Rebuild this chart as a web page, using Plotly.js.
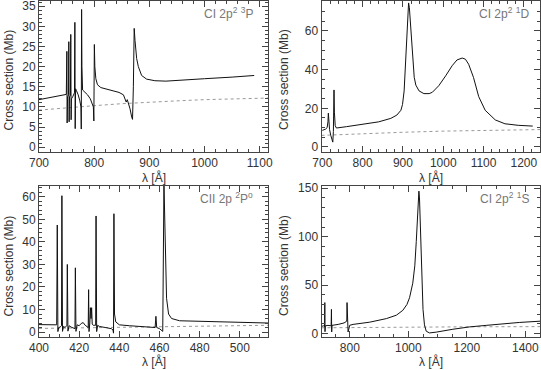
<!DOCTYPE html>
<html>
<head>
<meta charset="utf-8">
<script src="https://cdn.plot.ly/plotly-3.0.1.min.js"></script>
<style>
  body { margin: 0; background: #fff; }
  #chart { width: 541px; height: 370px; }
</style>
</head>
<body>
<div id="chart"></div>
<script>
// Panel 1: CI 2p2 3P
const p1Wave = [700, 720, 740, 749.5, 750.5, 751, 751.8, 753.5, 754, 754.6, 755.3,
  757, 757.6, 758.2, 758.8, 761, 764.3, 765, 765.6, 766.3, 768, 771, 774, 776,
  776.6, 777.2, 777.8, 779, 782, 788, 793, 796, 798.5, 799.4, 800.3, 801.2, 803,
  806, 812, 830, 845, 853, 856, 858, 860, 862, 865, 868, 869.5, 871, 872.5, 874,
  877, 880, 886, 895, 910, 930, 960, 1000, 1050, 1090];
const p1Sigma = [11.8, 12.3, 12.8, 13.1, 23.8, 6.0, 12.5, 13.0, 26.2, 6.3, 12.5,
  12.8, 28.0, 6.8, 12.0, 12.5, 13.5, 31.0, 4.6, 14.5, 14.0, 13.0, 11.5, 10.0,
  4.5, 34.2, 20.0, 14.2, 13.8, 13.0, 12.0, 11.0, 10.0, 6.5, 25.5, 20.0, 17.0,
  15.5, 14.8, 14.2, 13.6, 13.0, 11.8, 11.2, 11.8, 11.0, 9.5, 7.5, 6.9, 15.0, 29.5, 26.5,
  22.0, 20.0, 17.8, 16.9, 16.5, 16.4, 16.6, 17.0, 17.4, 17.8];
const p1RefWave = [700, 750, 800, 850, 900, 950, 1000, 1050, 1115];
const p1RefSigma = [9.2, 9.8, 10.3, 10.8, 11.2, 11.5, 11.8, 12.0, 12.2];

// Panel 2: CI 2p2 1D
const p2Wave = [700, 708, 712, 714, 715, 716, 718, 721, 724, 726, 727.5, 729, 730,
  732, 735, 760, 800, 840, 870, 885, 895, 899, 903, 907, 910, 912, 914, 916, 920,
  924, 928, 932, 940, 952, 965, 973, 989, 1006, 1022, 1034, 1047, 1055, 1063,
  1075, 1088, 1104, 1129, 1153, 1186, 1222];
const p2Sigma = [8.6, 9.2, 10.0, 13.0, 17.5, 12.0, 9.0, 6.0, 3.0, 2.5, 8.0, 29.5, 18.0,
  11.0, 9.8, 10.5, 11.6, 13.0, 14.8, 16.5, 19.0, 22.0, 29.0, 44.0, 58.0, 68.0, 74.5, 72.0, 60.0,
  45.0, 36.0, 32.0, 29.0, 27.6, 27.6, 28.3, 31.7, 36.8, 42.0, 45.0, 46.0, 45.4, 42.8,
  36.0, 26.0, 19.0, 14.0, 12.0, 11.2, 10.8];
const p2RefWave = [698, 800, 900, 1000, 1100, 1240];
const p2RefSigma = [6.0, 6.9, 7.6, 8.2, 8.6, 9.0];

// Panel 3: CII 2p 2Po
const p3Wave = [400, 405, 408.8, 409.1, 409.4, 409.8, 410.5, 411.2, 411.4, 411.7,
  412.2, 413, 413.9, 414.1, 414.4, 415, 416, 417.9, 418.1, 418.4, 419, 420, 421,
  422, 423, 424.5, 424.7, 424.9, 425.3, 425.6, 425.9, 426.2, 426.5, 427, 428.2,
  428.4, 428.7, 429.2, 430, 433, 436, 436.8, 437.1, 437.3, 437.6, 438.2, 440, 445,
  450, 455, 457.8, 458.2, 458.6, 460, 461.6, 462.2, 463, 463.5, 464.5, 466, 470,
  480, 500, 514];
const p3Sigma = [3.3, 3.3, 3.2, 47.5, 0.2, 2.0, 2.2, 2.8, 60.5, 0.3,
  2.5, 2.0, 3.0, 30.0, 0.4, 2.8, 2.2, 1.5, 28.5, 0.3, 3.2, 2.8, 3.8,
  4.2, 3.0, 2.0, 18.8, 0.2, 4.0, 10.8, 6.0, 10.8, 3.5, 3.0, 3.0,
  51.5, 0.2, 3.0, 2.5, 2.0, 1.5, 1.0, -0.5, 52.5, 8.0, 4.5, 3.2, 2.8,
  2.5, 2.3, 2.0, 7.0, 2.0, 1.5, 0.3, 66.0, 30.0, 15.0, 8.0, 6.0, 5.0,
  4.7, 4.3, 4.0];
const p3RefWave = [400, 430, 460, 490, 514];
const p3RefSigma = [1.6, 2.0, 2.4, 2.7, 3.0];

// Panel 4: CI 2p2 1S
const p4Wave = [703, 710, 713.5, 714.3, 715, 716, 725, 736, 737, 737.8, 739, 760,
  780, 788, 789.5, 790.3, 791.5, 793.9, 799.5, 811, 868, 925, 959, 981, 995, 1004,
  1015, 1022, 1027, 1031, 1034, 1036, 1038, 1041, 1044, 1047, 1050, 1055, 1061,
  1072, 1095, 1152, 1209, 1266, 1322, 1379, 1450];
const p4Sigma = [7.5, 8.0, 7.0, 32.0, 2.0, 8.0, 8.5, 8.0, 25.0, 1.7, 8.5, 9.5,
  11.0, 12.5, 14.0, 32.0, 18.0, 1.7, 8.6, 9.5, 11.8, 15.5, 19.0, 24.0, 30.0, 37.0,
  52.0, 70.0, 95.0, 125.0, 145.0, 147.0, 140.0, 115.0, 85.0, 50.0, 25.0, 9.0, 2.5,
  0.7, 1.5, 4.5, 6.9, 8.5, 10.3, 11.5, 12.8];
const p4RefWave = [703, 1000, 1200, 1450];
const p4RefSigma = [6.0, 6.8, 7.0, 7.2];

const W = 541, H = 370;
const ink = '#333';
const font = {family: 'Liberation Sans, Arial, sans-serif', size: 12, color: ink};
const labelFont = Object.assign({}, font, {color: '#777'});

function mainLine(x, y, xa, ya) {
  return {x: x, y: y, xaxis: xa, yaxis: ya, type: 'scatter', mode: 'lines',
    line: {color: '#111', width: 1}, hoverinfo: 'skip'};
}
function refLine(x, y, xa, ya) {
  return {x: x, y: y, xaxis: xa, yaxis: ya, type: 'scatter', mode: 'lines',
    line: {color: '#999', width: 1, dash: 'dot'}, hoverinfo: 'skip'};
}

const data = [
  refLine(p1RefWave, p1RefSigma, 'x', 'y'),
  mainLine(p1Wave, p1Sigma, 'x', 'y'),
  refLine(p2RefWave, p2RefSigma, 'x2', 'y2'),
  mainLine(p2Wave, p2Sigma, 'x2', 'y2'),
  refLine(p3RefWave, p3RefSigma, 'x3', 'y3'),
  mainLine(p3Wave, p3Sigma, 'x3', 'y3'),
  refLine(p4RefWave, p4RefSigma, 'x4', 'y4'),
  mainLine(p4Wave, p4Sigma, 'x4', 'y4')
];

function axis(extra, minorStep) {
  return Object.assign({
    showline: true, linecolor: '#444', linewidth: 1, mirror: 'ticks',
    ticks: 'inside', ticklen: 6, tickcolor: '#444', tickwidth: 1,
    showgrid: false, zeroline: false, tickfont: font, fixedrange: true,
    ticklabeloverflow: 'allow', tick0: 0,
    minor: {ticks: 'inside', ticklen: 3, tickcolor: '#444', showgrid: false,
      dtick: minorStep, tick0: 0}
  }, extra);
}

const leftDom = [39 / W, 268 / W];
const rightDom = [321.5 / W, 540 / W];
const topDom = [1 - 152 / H, 1 - 1 / H];
const botDom = [1 - 337 / H, 1 - 186 / H];

function note(text, px, py, extra) {
  return Object.assign({text: text, xref: 'paper', yref: 'paper', x: px / W, y: 1 - py / H,
    xanchor: 'center', yanchor: 'middle', showarrow: false, font: font}, extra);
}

const layout = {
  width: W, height: H,
  margin: {l: 0, r: 0, t: 0, b: 0},
  paper_bgcolor: '#fff', plot_bgcolor: '#fff',
  showlegend: false,
  xaxis: axis({domain: leftDom, anchor: 'y', range: [700, 1115], dtick: 100}, 20),
  yaxis: axis({domain: topDom, anchor: 'x', range: [-1.2, 36.3], dtick: 5}, 1),
  xaxis2: axis({domain: rightDom, anchor: 'y2', range: [698, 1240], dtick: 100}, 20),
  yaxis2: axis({domain: topDom, anchor: 'x2', range: [-2.6, 75.5], dtick: 20}, 5),
  xaxis3: axis({domain: leftDom, anchor: 'y3', range: [400, 514], dtick: 20}, 5),
  yaxis3: axis({domain: botDom, anchor: 'x3', range: [-2.2, 64.8], dtick: 10}, 2),
  xaxis4: axis({domain: rightDom, anchor: 'y4', range: [703, 1450], dtick: 200}, 50),
  yaxis4: axis({domain: botDom, anchor: 'x4', range: [-3.5, 152.3], dtick: 50}, 10),
  annotations: [
    note('CI 2p<sup>2</sup> <sup>3</sup>P', 255, 13, {xanchor: 'right', font: labelFont}),
    note('CI 2p<sup>2</sup> <sup>1</sup>D', 531, 13, {xanchor: 'right', font: labelFont}),
    note('CII 2p <sup>2</sup>P<sup>o</sup>', 255, 198, {xanchor: 'right', font: labelFont}),
    note('CI 2p<sup>2</sup> <sup>1</sup>S', 531, 198, {xanchor: 'right', font: labelFont}),
    note('Cross section (Mb)', 8.5, 80, {textangle: -90}),
    note('Cross section (Mb)', 284, 80, {textangle: -90}),
    note('Cross section (Mb)', 8.5, 266, {textangle: -90}),
    note('Cross section (Mb)', 284, 266, {textangle: -90}),
    note('λ [Å]', 153.5, 177),
    note('λ [Å]', 431, 177),
    note('λ [Å]', 153.5, 361),
    note('λ [Å]', 431, 361)
  ]
};

Plotly.newPlot('chart', data, layout, {staticPlot: true, displayModeBar: false});
</script>
</body>
</html>
